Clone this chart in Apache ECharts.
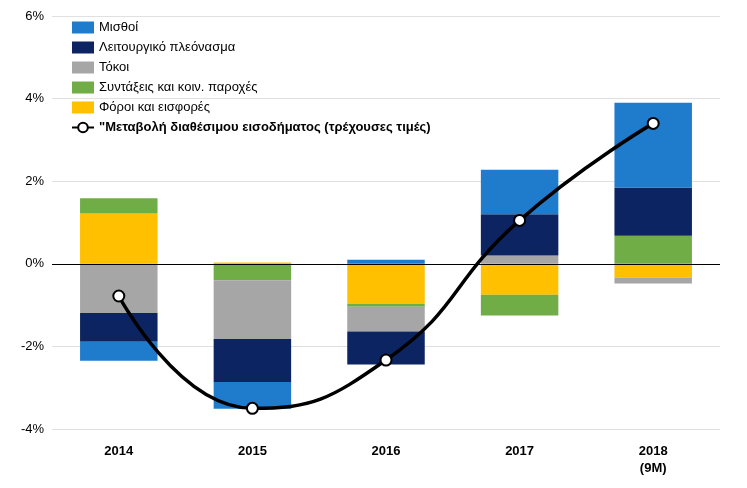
<!DOCTYPE html><html><head><meta charset="utf-8"><script src="https://cdn.jsdelivr.net/npm/echarts@6/dist/echarts.min.js"></script></head><body style="margin:0"><div id="c" style="width:747px;height:488px"></div><script>
const categories=['2014','2015','2016','2017','2018\n(9M)'];
const wages=[-0.46,-0.65,0.1,1.08,2.05];
const surplus=[-0.7,-1.04,-0.8,1.0,1.17];
const interest=[-1.19,-1.42,-0.6,0.2,-0.15];
const pensions=[0.37,-0.4,-0.07,-0.5,0.68];
const taxes=[1.22,0.03,-0.97,-0.75,-0.33];
const income=[-0.78,-3.5,-2.33,1.05,3.4];
const names=['Μισθοί','Λειτουργικό πλεόνασμα','Τόκοι','Συντάξεις και κοιν. παροχές','Φόροι και εισφορές','"Μεταβολή διαθέσιμου εισοδήματος (τρέχουσες τιμές)'];
const bar=(n,d,c)=>({name:n,type:'bar',stack:'s',data:d,itemStyle:{color:c},barWidth:'58%'});
const ch=echarts.init(document.getElementById('c'));
ch.setOption({animation:false,textStyle:{fontFamily:'Liberation Sans, Arial'},
grid:{left:52,right:27,top:16,bottom:59},
legend:{orient:'vertical',left:66,top:16,itemGap:7,itemWidth:22,itemHeight:12,selectedMode:false,
data:names.map((n,i)=>i<5?{name:n,icon:'rect',itemStyle:{}}:{name:n}),
textStyle:{fontSize:13,color:'#000',rich:{b:{fontWeight:'bold',fontSize:13,color:'#000'}}},
formatter:n=>n===names[5]?'{b|'+n+'}':n},
xAxis:{type:'category',data:categories,axisTick:{show:false},axisLine:{show:false},axisLabel:{fontWeight:'bold',fontSize:13,color:'#000',margin:14,lineHeight:17}},
yAxis:{type:'value',min:-4,max:6,interval:2,axisLabel:{formatter:'{value}%',fontSize:13,color:'#000'},splitLine:{lineStyle:{color:'#e0e0e0'}}},
series:[bar(names[4],taxes,'#ffc000'),bar(names[3],pensions,'#70ad47'),bar(names[2],interest,'#a6a6a6'),bar(names[1],surplus,'#0c2461'),bar(names[0],wages,'#1f7ccc'),
{name:names[5],type:'line',data:income,smooth:0.5,symbol:'circle',symbolSize:11,lineStyle:{color:'#000',width:3.5},itemStyle:{color:'#fff',borderColor:'#000',borderWidth:2},z:10,
markLine:{silent:true,symbol:'none',label:{show:false},lineStyle:{color:'#000',width:1,type:'solid'},data:[{yAxis:0}]}}]});
</script></body></html>
